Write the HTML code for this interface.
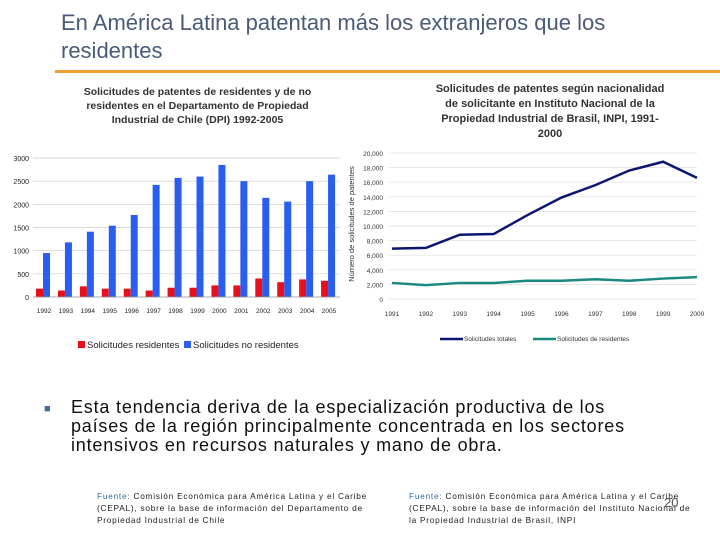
<!DOCTYPE html>
<html><head><meta charset="utf-8"><style>
body{margin:0;width:720px;height:540px;background:#fff;font-family:"Liberation Sans",sans-serif;position:relative;overflow:hidden}
.a{position:absolute;white-space:nowrap}
</style></head><body>
<div class="a" style="left:61px;top:9px;font-size:22px;line-height:28px;color:#4a5a78">En América Latina patentan más los extranjeros que los<br>residentes</div>
<div class="a" style="left:55px;top:70px;width:665px;height:3px;background:#f0a030"></div>
<div class="a" style="left:65px;top:85px;width:265px;text-align:center;font-size:10.5px;font-weight:bold;line-height:14px;color:#333">Solicitudes de patentes de residentes y de no<br>residentes en el Departamento de Propiedad<br>Industrial de Chile (DPI) 1992-2005</div>
<div class="a" style="left:424px;top:82px;width:252px;text-align:center;font-size:11px;font-weight:bold;line-height:15px;color:#333">Solicitudes de patentes según nacionalidad<br>de solicitante en Instituto Nacional de la<br>Propiedad Industrial de Brasil, INPI, 1991-<br>2000</div>
<svg class="a" style="left:0;top:0" width="720" height="540">
<g id="left"></g><g id="right"></g>
</svg>
<div class="a" style="left:44px;top:398px;font-size:18px;line-height:19px;letter-spacing:0.8px;color:#111"><span style="color:#4a6a9a;font-size:11px;position:absolute;left:0;top:2px">■</span><div style="margin-left:27px">Esta tendencia deriva de la especialización productiva de los<br>países de la región principalmente concentrada en los sectores<br>intensivos en recursos naturales y mano de obra.</div></div>
<div class="a" style="left:97px;top:490px;font-size:8.3px;line-height:12px;color:#222;letter-spacing:0.75px"><span style="color:#3a6aa0">Fuente:</span> Comisión Económica para América Latina y el Caribe<br>(CEPAL), sobre la base de información del Departamento de<br>Propiedad Industrial de Chile</div>
<div class="a" style="left:409px;top:490px;font-size:8.3px;line-height:12px;color:#222;letter-spacing:0.75px"><span style="color:#3a6aa0">Fuente:</span> Comisión Económica para América Latina y el Caribe<br>(CEPAL), sobre la base de información del Instituto Nacional de<br>la Propiedad Industrial de Brasil, INPI</div>
<div class="a" style="left:664px;top:495px;font-size:13px;color:#555">20</div>
<script>
const chileYears=["1992","1993","1994","1995","1996","1997","1998","1999","2000","2001","2002","2003","2004","2005"];
const chileRes=[180,140,230,180,180,140,200,200,250,250,400,320,380,350];
const chileNoRes=[950,1180,1410,1540,1770,2420,2570,2600,2850,2500,2140,2060,2500,2640];
const chileTicks=[0,500,1000,1500,2000,2500,3000];
const brYears=["1991","1992","1993","1994","1995","1996","1997","1998","1999","2000"];
const brTotal=[6900,7000,8800,8900,11500,13900,15600,17600,18800,16600];
const brRes=[2200,1900,2200,2200,2500,2500,2700,2500,2800,3000];
const brTicks=[0,2000,4000,6000,8000,10000,12000,14000,16000,18000,20000];
const NS="http://www.w3.org/2000/svg";
function mk(p,t,at,txt){const e=document.createElementNS(NS,t);for(const k in at)e.setAttribute(k,at[k]);if(txt!=null)e.textContent=txt;p.appendChild(e);return e;}
const L=document.getElementById('left');
const lx0=33,lx1=340,ly0=297,ly1=158,lmax=3000;
const ly=v=>ly0-(ly0-ly1)*v/lmax;
const bw=(lx1-lx0)/chileYears.length;
chileTicks.forEach(t=>{
 const g=mk(L,'line',{x1:lx0,x2:lx1,y1:ly(t),y2:ly(t),stroke:'#ccc','stroke-width':0.7});
 
 const tx=mk(L,'text',{x:lx0-4,y:ly(t)+3,'font-size':7,'text-anchor':'end',fill:'#222'},t);
 
});
chileYears.forEach((y,i)=>{
 const x=lx0+bw*i;
 const r=mk(L,'rect',{x:x+3,y:ly(chileRes[i]),width:7,height:ly0-ly(chileRes[i]),fill:'#e8101a'});
 
 const b=mk(L,'rect',{x:x+10,y:ly(chileNoRes[i]),width:7,height:ly0-ly(chileNoRes[i]),fill:'#2a5ef0'});
 
 const tx=mk(L,'text',{x:x+bw/2,y:313,'font-size':6.5,'text-anchor':'middle',fill:'#222'},y);
 
});
mk(L,'line',{x1:lx0,x2:lx1,y1:ly0,y2:ly0,stroke:'#999','stroke-width':0.8});
let e=mk(L,'rect',{x:78,y:341,width:7,height:7,fill:'#e8101a'});
e=mk(L,'text',{x:87,y:348,'font-size':9.5,fill:'#222'},'Solicitudes residentes');
e=mk(L,'rect',{x:184,y:341,width:7,height:7,fill:'#2a5ef0'});
e=mk(L,'text',{x:193,y:348,'font-size':9.5,fill:'#222'},'Solicitudes no residentes');
const R=document.getElementById('right');
const rx0=392,rx1=697,ry0=299,ry1=153,rmax=20000;
const rx=i=>rx0+(rx1-rx0)*i/(brYears.length-1);
const ry=v=>ry0-(ry0-ry1)*v/rmax;
brTicks.forEach(t=>{
 e=mk(R,'line',{x1:rx0-3,x2:rx1,y1:ry(t),y2:ry(t),stroke:'#ddd','stroke-width':0.7});
 
 e=mk(R,'text',{x:383,y:ry(t)+3,'font-size':6.5,'text-anchor':'end',fill:'#333'},t.toLocaleString('en-US'));
 
});
brYears.forEach((y,i)=>{
 e=mk(R,'text',{x:rx(i),y:316,'font-size':6.5,'text-anchor':'middle',fill:'#333'},y);
 
});
e=mk(R,'text',{x:0,y:0,'font-size':7.5,fill:'#333','text-anchor':'middle',transform:'translate(354,224) rotate(-90)'},'Número de solicitudes de patentes');

e=mk(R,'polyline',{points:brTotal.map((v,i)=>rx(i)+','+ry(v)).join(' '),fill:'none',stroke:'#0c1670','stroke-width':2.5});

e=mk(R,'polyline',{points:brRes.map((v,i)=>rx(i)+','+ry(v)).join(' '),fill:'none',stroke:'#1a8a80','stroke-width':2.5});

e=mk(R,'line',{x1:440,x2:463,y1:339,y2:339,stroke:'#0c1670','stroke-width':2.5});
e=mk(R,'text',{x:464,y:341,'font-size':6.5,fill:'#333'},'Solicitudes totales');
e=mk(R,'line',{x1:533,x2:556,y1:339,y2:339,stroke:'#1a8a80','stroke-width':2.5});
e=mk(R,'text',{x:557,y:341,'font-size':6.5,fill:'#333'},'Solicitudes de residentes');
</script>
</body></html>
